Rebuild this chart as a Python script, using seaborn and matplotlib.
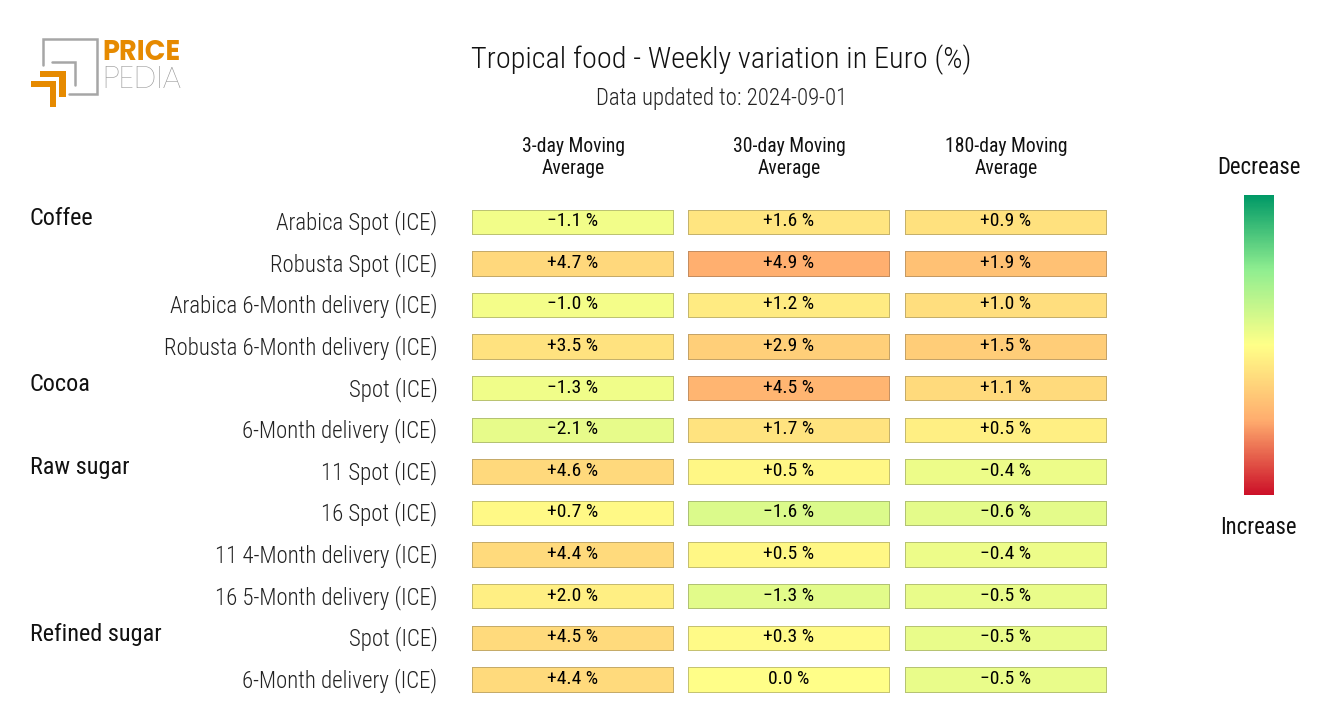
import matplotlib
matplotlib.use('Agg')
import matplotlib.pyplot as plt
from matplotlib.cm import ScalarMappable
from matplotlib.colors import LinearSegmentedColormap, Normalize
from matplotlib.patches import Polygon
import numpy as np
import pandas as pd
import seaborn as sns

# Data
groups = ['Coffee', '', '', '', 'Cocoa', '', 'Raw sugar', '', '', '', 'Refined sugar', '']
products = ['Arabica Spot (ICE)', 'Robusta Spot (ICE)', 'Arabica 6-Month delivery (ICE)',
            'Robusta 6-Month delivery (ICE)', 'Spot (ICE)', '6-Month delivery (ICE)',
            '11 Spot (ICE)', '16 Spot (ICE)', '11 4-Month delivery (ICE)',
            '16 5-Month delivery (ICE)', 'Spot (ICE)', '6-Month delivery (ICE)']
columns = ['3-day Moving\nAverage', '30-day Moving\nAverage', '180-day Moving\nAverage']
ma_3 = [-1.1, 4.7, -1.0, 3.5, -1.3, -2.1, 4.6, 0.7, 4.4, 2.0, 4.5, 4.4]
ma_30 = [1.6, 4.9, 1.2, 2.9, 4.5, 1.7, 0.5, -1.6, 0.5, -1.3, 0.3, 0.0]
ma_180 = [0.9, 1.9, 1.0, 1.5, 1.1, 0.5, -0.4, -0.6, -0.4, -0.5, -0.5, -0.5]
# each column has its own colour range
col_limits = [20, 10, 5]

W, H = 1320, 720
FONT = ['Roboto Condensed', 'Liberation Sans Narrow', 'Roboto', 'DejaVu Sans']
LOGO_FONT = ['Poppins', 'Roboto', 'DejaVu Sans']

sns.set_theme(style='white')
plt.rcParams['font.family'] = FONT

cmap = LinearSegmentedColormap.from_list(
    'pricepedia', ['#009966', '#90EE90', '#FFFF88', '#FFAD6E', '#CC1028'])
df = pd.DataFrame({'ma_3': ma_3, 'ma_30': ma_30, 'ma_180': ma_180})


def px_axes(fig, x0, y0, x1, y1):
    # axes from pixel box, y measured from the top
    return fig.add_axes([x0 / W, 1 - y1 / H, (x1 - x0) / W, (y1 - y0) / H])


def fmt(v):
    if v == 0:
        return '0.0 %'
    return f'{v:+.1f} %'.replace('-', '\u2212')


fig = plt.figure(figsize=(W / 100, H / 100), dpi=100, facecolor='white')

# Cells
col_x = [(472, 673), (688, 889), (905, 1106.5)]
row_top = 209.5
row_step = 41.6
row_h = 24.5
for j, name in enumerate(df.columns):
    for i in range(len(df)):
        top = row_top + i * row_step
        ax = px_axes(fig, col_x[j][0], top, col_x[j][1], top + row_h)
        cell = df[[name]].iloc[[i]]
        sns.heatmap(cell, ax=ax, cmap=cmap, vmin=-col_limits[j], vmax=col_limits[j], cbar=False,
                    annot=np.array([[fmt(cell.iloc[0, 0])]]), fmt='',
                    annot_kws={'fontsize': 14, 'color': 'black', 'family': FONT},
                    linewidths=0.7, linecolor=(0.25, 0.25, 0.25, 0.3),
                    xticklabels=False, yticklabels=False)
        ax.collections[0].set_clip_on(False)
        ax.texts[0].set_y(0.48)

# Colour bar
cax = px_axes(fig, 1243.5, 195, 1273.5, 495)
cbar = fig.colorbar(ScalarMappable(norm=Normalize(-1, 1), cmap=cmap), cax=cax)
cbar.ax.invert_yaxis()
cbar.set_ticks([])
cbar.outline.set_visible(False)

# Texts and logo, on an overlay in pixel units
ov = fig.add_axes([0, 0, 1, 1], zorder=5)
ov.set_xlim(0, W)
ov.set_ylim(H, 0)
ov.axis('off')

ov.text(721.5, 60, 'Tropical food - Weekly variation in Euro (%)', ha='center', va='center',
        fontsize=21.75, fontweight='light', color='#111111')
ov.text(722, 98.5, 'Data updated to: 2024-09-01', ha='center', va='center', fontsize=16.4,
        fontweight='light', color='#222222')

for (x0, x1), label in zip(col_x, columns):
    ov.text((x0 + x1) / 2 + 0.5, 157, label, ha='center', va='center', fontsize=14.1, color='#111111',
            linespacing=1.2)

for i, (group, product) in enumerate(zip(groups, products)):
    y = row_top + i * row_step + row_h / 2
    ov.text(437.5, y + 1, product, ha='right', va='center', fontsize=16.45, fontweight='light',
            color='#222222')
    if group:
        ov.text(29.5, y - 3.5, group, ha='left', va='center', fontsize=17.5, color='#111111')

ov.text(1258.5, 167, 'Decrease', ha='center', va='center', fontsize=16.3, color='#111111')
ov.text(1258.5, 527, 'Increase', ha='center', va='center', fontsize=16.3, color='#111111')

# Logo
GREY = '#A6A6A6'
ORANGE = '#E68A00'
ov.plot([43, 43, 97, 97, 69], [65, 39, 39, 94, 94], color=GREY, lw=1.8, solid_joinstyle='miter')
ov.plot([52, 75, 75], [62, 62, 85], color=GREY, lw=1.8, solid_joinstyle='miter')
ov.add_patch(Polygon([(40, 71), (66, 71), (66, 97), (59, 97), (59, 77), (40, 77)], color=ORANGE, lw=0))
ov.add_patch(Polygon([(31, 81), (56, 81), (56, 107), (50, 107), (50, 87), (31, 87)], color=ORANGE, lw=0))
ov.text(102, 54, 'PRICE', ha='left', va='center', fontsize=19.6, fontweight='bold',
        color=ORANGE, family=LOGO_FONT)
ov.text(102, 81, 'PEDIA', ha='left', va='center', fontsize=22.8, fontweight='light',
        color='#969696', family=LOGO_FONT)

fig.savefig('out.png', dpi=100)
